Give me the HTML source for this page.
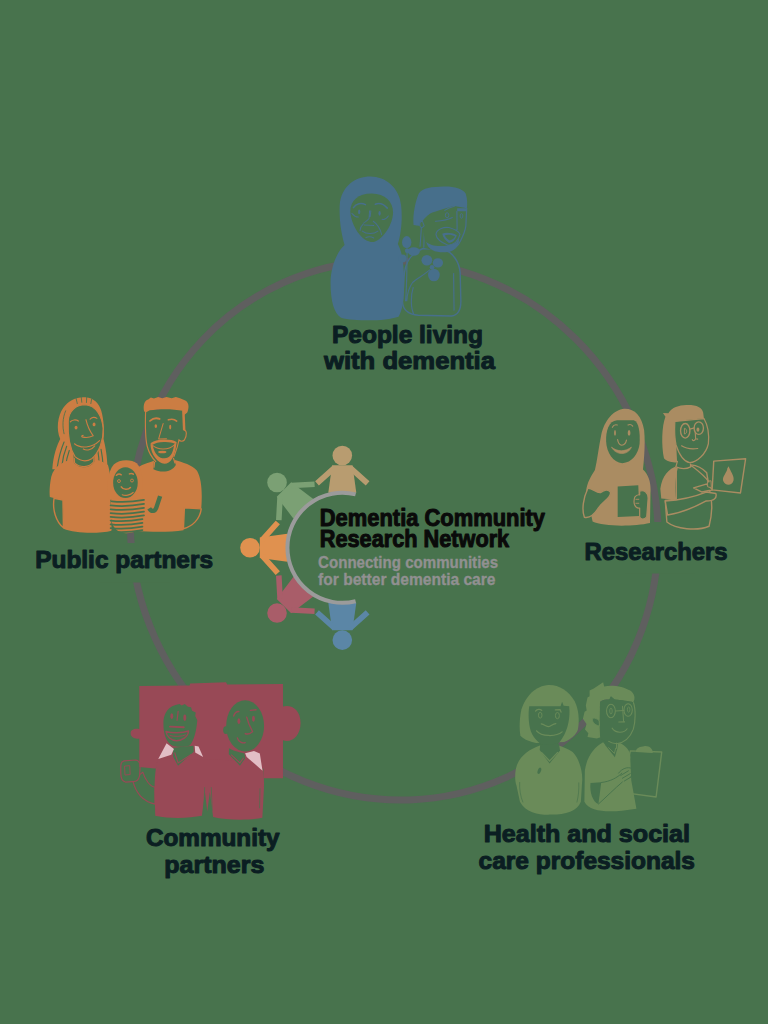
<!DOCTYPE html>
<html><head><meta charset="utf-8"><title>Dementia Community Research Network</title>
<style>
html,body{margin:0;padding:0;background:#48734D;}
body{width:768px;height:1024px;overflow:hidden;font-family:"Liberation Sans",sans-serif;}
svg{display:block}
text{font-family:"Liberation Sans",sans-serif;font-weight:bold}
</style></head><body>
<svg width="768" height="1024" viewBox="0 0 768 1024">
<rect width="768" height="1024" fill="#48734D"/>
<ellipse cx="394.27" cy="530.21" rx="262.4" ry="271.3" transform="rotate(-24.22 394.27 530.21)" fill="none" stroke="#5f5f5f" stroke-width="7"/>
<rect x="100" y="543" width="70" height="39.5" fill="#48734D"/><rect x="625" y="522" width="70" height="51.5" fill="#48734D"/>
<g transform="translate(320 170) scale(0.23438)">
<path d="M440,335 C400,350 366,385 360,440 L352,560 C352,600 380,616 420,620 L560,623 C590,620 601,600 601,560 L598,440 C595,390 565,352 528,338 Z" fill="#48734D" stroke="#476F8B" stroke-width="6"/><path d="M570,440 L572,600 M398,500 C385,540 388,590 400,615" fill="none" stroke="#476F8B" stroke-width="5"/><g transform="translate(341.4 42.67) scale(0.4445)"><path d="M200,440 L185,640 L440,700 L470,660 Z" fill="#48734D"/><path d="M205,460 L192,640 M235,470 L228,650" fill="none" stroke="#476F8B" stroke-width="11"/><path d="M210,400 L240,590 C300,690 440,700 520,660 C580,610 620,520 632,440 L640,270 L400,240 Z" fill="#48734D"/><path d="M640,268 L632,440 C624,500 600,545 580,585 C560,630 520,662 470,682" fill="none" stroke="#476F8B" stroke-width="12"/><path d="M130,432 C120,330 150,200 180,130 C220,72 300,65 420,62 C520,60 600,80 630,130 C647,180 647,230 642,272 L520,250 C440,270 340,300 290,322 C250,350 222,380 212,402 L192,442 Z" fill="#476F8B"/><path d="M215,395 C185,395 180,440 205,462 L232,440 Z" fill="#48734D" stroke="#476F8B" stroke-width="10"/><path d="M548,272 L642,270 L640,300 L548,300 Z" fill="#476F8B"/><path d="M430,292 C460,268 495,258 522,252 M340,396 C400,392 460,385 502,360 M546,300 L548,478 C520,492 480,478 452,462" fill="none" stroke="#476F8B" stroke-width="11" stroke-linecap="round"/><ellipse cx="452" cy="338" rx="17" ry="24" fill="none" stroke="#476F8B" stroke-width="9"/><ellipse cx="590" cy="345" rx="13" ry="22" fill="none" stroke="#476F8B" stroke-width="9"/><path d="M345,522 C350,470 420,450 470,456 C520,470 560,490 576,520 C562,580 520,622 462,626 C400,602 350,572 345,522 Z" fill="#48734D" stroke="#476F8B" stroke-width="11"/><path d="M405,515 C440,500 500,505 545,530 C530,580 500,600 470,605 C440,585 415,555 405,515 Z" fill="#476F8B"/><path d="M430,530 C460,520 500,525 528,540 C520,560 500,575 478,580 C455,570 440,552 430,530 Z" fill="#48734D"/><path d="M250,592 C300,640 420,652 540,602 L562,562 C578,602 542,682 462,692 C362,702 270,682 250,592 Z" fill="#476F8B"/></g><path d="M215,28 C150,28 90,70 84,150 C81,220 93,280 105,320 C70,350 45,420 45,480 C45,560 60,612 90,630 C150,646 280,646 335,626 C355,600 362,520 358,440 C355,380 346,340 332,316 C348,270 352,200 346,150 C338,75 280,28 215,28 Z" fill="#476F8B"/><g transform="translate(42.67 42.67) scale(0.4445)"><path d="M195,300 C195,200 270,130 400,130 C530,130 605,210 605,310 C605,420 520,560 420,596 C300,602 200,430 195,300 Z" fill="#48734D"/><path d="M225,265 C250,225 300,215 340,236 M435,232 C480,215 520,236 550,270" fill="none" stroke="#476F8B" stroke-width="15" stroke-linecap="round"/><path d="M210,320 C230,345 250,356 272,356 M500,376 C520,386 545,366 560,345 M380,295 L375,370 C360,390 340,400 325,412 M392,295 L386,350 M330,432 L420,436 M415,396 C450,420 480,460 495,522 M320,422 C300,440 290,460 288,486 M310,490 C350,522 420,522 460,490 M345,552 C370,540 400,545 420,556" fill="none" stroke="#476F8B" stroke-width="10" stroke-linecap="round"/><ellipse cx="280" cy="306" rx="11" ry="22" fill="#476F8B"/><ellipse cx="476" cy="320" rx="11" ry="22" fill="#476F8B"/></g><path d="M372,335 C370,400 372,480 365,560 M470,425 C440,450 410,465 395,480 C380,500 372,530 370,560" fill="none" stroke="#476F8B" stroke-width="5"/><ellipse cx="370" cy="308" rx="20" ry="26" fill="#476F8B"/><ellipse cx="400" cy="348" rx="26" ry="18" fill="#476F8B"/><ellipse cx="352" cy="378" rx="17" ry="17" fill="#476F8B"/><ellipse cx="372" cy="345" rx="10" ry="10" fill="#476F8B"/><ellipse cx="456" cy="385" rx="23" ry="22" fill="#476F8B"/><ellipse cx="503" cy="396" rx="22" ry="20" fill="#476F8B"/><ellipse cx="486" cy="448" rx="25" ry="27" fill="#476F8B"/><ellipse cx="478" cy="415" rx="10" ry="10" fill="#476F8B"/>
</g>
<g transform="translate(40 390) scale(0.23438)">
<path d="M495,298 C470,310 440,316 418,330 L405,600 C480,607 560,606 612,598 L616,503 L688,507 C693,440 690,380 670,345 C650,320 610,310 572,298 C555,330 512,330 495,298 Z" fill="#CB7D43"/><path d="M616,503 L612,592 C650,582 682,552 688,507 Z" fill="#48734D" stroke="#CB7D43" stroke-width="6" stroke-linejoin="round"/><g transform="translate(384 0) scale(0.4445)"><path d="M232,640 L225,760 C300,800 400,790 440,720 L418,640 Z" fill="#48734D"/><path d="M236,690 L230,745 M416,650 L432,705" fill="none" stroke="#CB7D43" stroke-width="11"/><path d="M150,190 C145,350 150,480 165,540 C180,600 220,660 250,692 C300,712 380,705 420,642 C440,600 455,560 470,490 L520,380 L512,190 Z" fill="#48734D"/><path d="M150,195 C145,350 150,480 165,540 C180,600 220,660 250,690" fill="none" stroke="#CB7D43" stroke-width="11"/><path d="M512,195 L520,385" fill="none" stroke="#CB7D43" stroke-width="24"/><path d="M515,385 C548,380 548,440 522,480 C506,496 482,492 470,480 C455,560 435,600 420,642" fill="none" stroke="#CB7D43" stroke-width="11"/><path d="M135,205 C125,150 135,100 175,90 L200,72 L230,82 L270,68 L310,80 L350,66 L400,78 L440,66 L480,80 L520,95 C565,110 572,160 550,215 L520,240 L505,200 C420,180 280,180 190,195 L150,215 Z" fill="#CB7D43"/><path d="M192,296 C220,272 260,268 284,278" fill="none" stroke="#CB7D43" stroke-width="18" stroke-linecap="round"/><path d="M368,286 C400,276 430,282 448,298" fill="none" stroke="#CB7D43" stroke-width="16" stroke-linecap="round"/><ellipse cx="248" cy="346" rx="12" ry="18" fill="#CB7D43"/><ellipse cx="386" cy="356" rx="10" ry="22" fill="#CB7D43"/><path d="M318,322 L275,470 L350,468" fill="none" stroke="#CB7D43" stroke-width="10" stroke-linecap="round" stroke-linejoin="round"/><path d="M210,516 C260,480 390,478 436,506" fill="none" stroke="#CB7D43" stroke-width="24" stroke-linecap="round"/><path d="M216,532 C270,578 370,578 426,526" fill="none" stroke="#CB7D43" stroke-width="10" stroke-linecap="round"/><ellipse cx="310" cy="596" rx="40" ry="12" fill="#CB7D43"/><path d="M196,520 C200,620 270,705 330,708 C390,702 430,650 446,510 L424,520 C412,620 380,652 330,656 C280,656 235,620 218,530 Z" fill="#CB7D43"/></g><g transform="translate(42.67 0) scale(0.4445)"><path d="M22,760 C32,620 68,530 98,470 C58,380 72,250 128,170 C178,100 260,62 340,70 C422,76 472,130 492,200 C517,290 524,400 514,470 C532,540 550,640 552,760 Z" fill="#CB7D43"/><path d="M70,740 C85,640 110,560 135,500 M112,740 C120,660 140,590 160,540 M150,740 C155,680 170,620 185,580 M470,730 C472,680 468,630 460,590 M510,740 C508,680 500,620 490,570" fill="none" stroke="#48734D" stroke-width="11" stroke-linecap="round"/><path d="M250,80 L262,130 M300,70 L305,118 M352,72 L350,120 M400,85 L392,130 M150,200 C120,270 118,350 135,420" fill="none" stroke="#48734D" stroke-width="8" stroke-linecap="round"/></g><path d="M150,293 C110,300 60,320 48,370 C40,410 40,440 42,456 L96,470 C101,520 101,560 100,592 C150,612 250,614 306,600 L300,470 C305,420 300,350 290,320 C270,305 245,298 230,293 C215,322 170,322 150,293 Z" fill="#CB7D43"/><path d="M60,462 C52,510 68,562 100,588 L98,470 Z" fill="#48734D" stroke="#CB7D43" stroke-width="6" stroke-linejoin="round"/><g transform="translate(42.67 0) scale(0.4445)"><path d="M225,620 L230,700 C290,760 380,750 425,690 L428,620 Z" fill="#48734D"/><path d="M232,650 L236,700 C290,752 375,745 420,690 L422,640" fill="none" stroke="#CB7D43" stroke-width="11"/><path d="M175,300 C180,200 250,142 340,142 C440,150 500,250 510,370 C515,480 470,600 400,660 C350,692 290,682 240,640 C190,560 170,420 175,300 Z" fill="#48734D" stroke="#CB7D43" stroke-width="11"/><path d="M195,306 C210,286 250,280 272,298 M385,280 C400,260 430,256 450,272 M345,285 C360,350 385,400 415,440 C380,456 340,458 316,452 C300,448 300,438 318,436 M235,516 C290,562 400,562 476,486 M320,566 C350,586 400,576 430,536" fill="none" stroke="#CB7D43" stroke-width="11" stroke-linecap="round" stroke-linejoin="round"/><ellipse cx="250" cy="360" rx="14" ry="18" fill="#CB7D43"/><ellipse cx="423" cy="330" rx="14" ry="18" fill="#CB7D43"/></g><g transform="translate(234.7 277.4) scale(0.4445)"><path d="M128,430 C110,300 120,160 180,90 C230,40 350,35 400,80 C450,130 470,250 452,430 Z" fill="#CB7D43"/><path d="M160,420 C140,470 140,560 160,640 C180,720 240,750 300,750 C380,750 440,720 452,640 C470,540 500,470 440,420 Z" fill="#CB7D43"/><path d="M160,444 C250,454 370,448 470,430 M150,484 C240,494 370,488 470,470 M150,521 C240,531 370,525 470,507 M150,558 C240,568 370,562 470,544 M150,594 C240,604 370,598 470,580 M150,630 C240,640 355,634 455,616 M150,666 C240,676 355,670 455,652 M150,702 C240,712 355,706 455,688 M160,734 C250,744 355,738 455,720 " fill="none" stroke="#48734D" stroke-width="17" stroke-linecap="round"/><path d="M520,512 C540,545 575,548 590,500 L625,395" fill="none" stroke="#48734D" stroke-width="42" stroke-linecap="butt" stroke-linejoin="round"/><ellipse cx="292" cy="265" rx="118" ry="148" fill="#48734D"/><path d="M205,195 C220,182 240,182 252,190 M330,182 C345,174 358,176 368,184" fill="none" stroke="#CB7D43" stroke-width="14" stroke-linecap="round"/><circle cx="230" cy="250" r="14" fill="none" stroke="#CB7D43" stroke-width="9"/><circle cx="355" cy="245" r="14" fill="none" stroke="#CB7D43" stroke-width="9"/><path d="M252,306 C270,336 320,336 340,312" fill="none" stroke="#CB7D43" stroke-width="15" stroke-linecap="round"/><path d="M262,382 C290,396 340,386 366,360" fill="none" stroke="#CB7D43" stroke-width="12" stroke-linecap="round"/></g>
</g>
<g transform="translate(575 395) scale(0.23438)">
<path d="M432,305 L432,445 L385,450 L392,542 C430,572 520,582 572,560 C582,520 586,470 580,440 L562,332 C542,310 522,300 495,298 Z" fill="#48734D" stroke="#AA8C62" stroke-width="6" stroke-linejoin="round"/><path d="M436,303 C400,314 372,345 364,400 L368,442 L432,447 C425,400 428,350 440,306 Z" fill="#AA8C62"/><path d="M385,452 L395,512 C450,503 520,474 560,452 C592,452 607,440 601,420 L560,414 C520,430 450,448 385,452 Z" fill="#48734D" stroke="#AA8C62" stroke-width="6" stroke-linejoin="round"/><path d="M506,396 L560,380 L588,404 L542,414 Z" fill="#48734D" stroke="#AA8C62" stroke-width="6" stroke-linejoin="round"/><path d="M592,282 L728,272 L706,418 L585,405 Z" fill="#48734D" stroke="#AA8C62" stroke-width="6" stroke-linejoin="round"/><path d="M656,304 C660,322 682,345 676,366 C670,388 640,388 632,366 C627,346 650,330 650,312 Z" fill="#AA8C62"/><path d="M565,368 L580,366 L582,395 L566,392 Z" fill="#48734D" stroke="#AA8C62" stroke-width="4"/><g transform="translate(341.4 21.3) scale(0.4445)"><path d="M215,560 L196,645 C250,668 300,668 345,645 L340,590 Z" fill="#48734D"/><path d="M216,585 L200,642 C250,664 300,664 342,642 L340,610 M345,628 C400,670 470,720 520,790" fill="none" stroke="#AA8C62" stroke-width="12"/><path d="M190,205 C185,300 190,380 202,432 C230,520 280,590 332,602 C400,600 490,520 512,420 C520,340 505,240 470,178 Z" fill="#48734D" stroke="#AA8C62" stroke-width="12"/><path d="M76,126 L128,128 C160,70 230,50 300,48 C400,45 450,70 462,120 L470,180 C400,178 280,190 190,212 C185,300 190,380 204,440 L212,598 C170,605 110,590 86,560 C60,430 65,250 100,160 Z" fill="#AA8C62"/><ellipse cx="290" cy="296" rx="45" ry="70" fill="none" stroke="#AA8C62" stroke-width="13"/><ellipse cx="420" cy="270" rx="45" ry="60" fill="none" stroke="#AA8C62" stroke-width="13"/><path d="M282,272 C310,275 312,325 282,326 Z" fill="none" stroke="#AA8C62" stroke-width="9"/><ellipse cx="412" cy="285" rx="14" ry="20" fill="#AA8C62"/><path d="M335,280 L378,268 M386,312 L390,372 C380,396 360,392 358,380 M390,372 L410,376 M255,440 C300,470 360,472 410,466" fill="none" stroke="#AA8C62" stroke-width="11" stroke-linecap="round"/></g><path d="M211,59 C165,62 125,110 112,170 C100,230 95,280 85,320 C70,345 50,375 48,410 L75,540 C120,562 250,562 320,546 L322,420 C325,380 318,345 290,318 C296,260 300,200 295,150 C285,90 255,58 211,59 Z" fill="#AA8C62"/><g transform="translate(64 21.3) scale(0.4445)"><path d="M155,400 C150,300 180,200 260,195 L420,195 C470,210 482,320 476,420 C465,520 400,602 310,606 C220,600 160,500 155,400 Z" fill="#48734D"/><path d="M215,262 C225,240 245,235 262,240 M365,240 C380,232 400,238 410,250 M265,380 C270,410 290,432 305,434 C325,432 345,410 350,385 M228,622 L330,632" fill="none" stroke="#AA8C62" stroke-width="11" stroke-linecap="round"/><ellipse cx="240" cy="316" rx="9" ry="28" fill="#AA8C62"/><ellipse cx="375" cy="316" rx="13" ry="28" fill="#AA8C62"/><path d="M206,452 C260,498 340,498 398,452 C365,535 250,535 206,452 Z" fill="#AA8C62" stroke="#AA8C62" stroke-width="6" stroke-linejoin="round"/></g><path d="M55,398 C35,440 28,490 40,522 C60,527 82,510 100,482 C120,452 152,442 152,416 C142,400 125,405 110,416 C95,422 70,394 55,398 Z" fill="#48734D" stroke="#AA8C62" stroke-width="6" stroke-linejoin="round"/><path d="M182,390 L270,385 L275,516 L182,521 Z" fill="#48734D"/><path d="M276,410 C296,404 312,416 312,440 L306,520 C296,532 280,532 276,520 L276,482 C255,486 247,460 255,436 C262,426 270,425 276,426 Z" fill="#48734D" stroke="#AA8C62" stroke-width="5" stroke-linejoin="round"/><path d="M258,445 L274,445 M258,462 L274,462" stroke="#AA8C62" stroke-width="4" fill="none"/>
</g>
<g transform="translate(110 670) scale(0.23438)">
<path d="M96,468 C108,520 132,560 192,572 L192,500 C172,498 150,470 140,436 Z" fill="#48734D" stroke="#984956" stroke-width="5" stroke-linejoin="round"/><path d="M60,388 L110,384 C124,386 130,400 128,420 L126,452 C122,470 110,478 95,476 L66,478 C52,474 46,460 46,440 L46,410 C46,398 52,390 60,388 Z" fill="#48734D" stroke="#984956" stroke-width="5"/><path d="M62,410 L84,408 L86,446 L64,448 Z" fill="none" stroke="#984956" stroke-width="4"/><path d="M125,68 L340,66 L342,58 L495,52 L500,62 L738,60 L738,156 C775,146 813,170 813,226 C813,282 775,312 738,300 L738,462 L655,462 L655,420 L190,420 L125,414 L125,292 C105,296 88,286 88,270 C88,254 105,248 125,252 Z" fill="#984956"/><path d="M205,378 C192,420 190,470 190,520 L193,622 C260,636 340,632 392,622 L405,520 L415,604 L426,520 L440,627 C500,642 600,642 650,630 L656,520 C659,470 656,420 645,388 Z" fill="#984956"/><path d="M404,500 L400,600 M432,500 L436,600 M640,505 L638,590" fill="none" stroke="#48734D" stroke-width="3"/><g transform="translate(128 85.3) scale(0.4445)"><path d="M225,330 C220,230 270,150 380,135 L400,150 L430,135 L460,160 L490,165 L500,200 L535,215 L530,250 L550,290 C540,400 520,480 480,530 C430,552 330,552 290,520 C240,480 225,400 225,330 Z" fill="#48734D"/><path d="M318,555 L512,535 L516,592 L365,728 L318,640 Z" fill="#48734D"/><path d="M332,600 L366,700 L492,618" fill="none" stroke="#984956" stroke-width="11"/><path d="M255,510 L326,566 L300,622 L175,662 Z" fill="#E2BEC5"/><path d="M525,535 L562,542 L606,642 L530,600 Z" fill="#E2BEC5"/><ellipse cx="305" cy="252" rx="14" ry="28" fill="#984956"/><ellipse cx="430" cy="266" rx="14" ry="30" fill="#984956"/><path d="M366,206 L356,290" fill="none" stroke="#984956" stroke-width="12" stroke-linecap="round"/><path d="M288,352 L420,358" fill="none" stroke="#984956" stroke-width="18" stroke-linecap="round"/><path d="M250,398 C300,414 400,418 466,394 C462,452 400,488 350,488 C300,482 255,450 250,398 Z" fill="#48734D" stroke="#984956" stroke-width="14" stroke-linejoin="round"/><path d="M285,436 C330,450 400,448 440,430" fill="none" stroke="#984956" stroke-width="9"/></g><g transform="translate(405.4 85.3) scale(0.4445)"><ellipse cx="385" cy="345" rx="182" ry="246" fill="#48734D"/><ellipse cx="200" cy="385" rx="26" ry="38" fill="#48734D"/><path d="M230,560 C280,590 340,600 378,608 L386,656 L335,726 L228,616 Z" fill="#48734D"/><path d="M250,620 L335,700 L370,650" fill="none" stroke="#984956" stroke-width="10"/><path d="M385,606 L470,586 L526,610 L552,775 L400,642 Z" fill="#E2BEC5"/><path d="M275,250 C285,216 305,206 325,206 M436,196 L490,190 M400,260 C415,320 440,370 456,400 C430,420 400,426 386,418 M310,460 C320,500 360,512 386,506" fill="none" stroke="#984956" stroke-width="13" stroke-linecap="round"/><ellipse cx="325" cy="300" rx="14" ry="28" fill="#984956"/><ellipse cx="465" cy="276" rx="14" ry="28" fill="#984956"/></g>
</g>
<g transform="translate(500 670) scale(0.23438)">
<path d="M556,345 L690,350 L666,542 L520,522 Z" fill="#48734D" stroke="#6A8B59" stroke-width="6" stroke-linejoin="round"/><path d="M580,350 C578,332 600,326 615,325 C636,322 652,335 652,354 Z" fill="#6A8B59"/><path d="M440,308 C400,330 370,370 362,430 L360,562 C380,602 450,607 520,600 L582,592 L560,470 L556,380 C560,350 540,322 505,308 C490,336 460,336 440,308 Z" fill="#6A8B59"/><path d="M448,300 L450,322 L490,372 L502,330 L505,296 Z" fill="#48734D"/><path d="M462,330 L488,356 L494,332 M497,300 L497,335" fill="none" stroke="#6A8B59" stroke-width="4"/><path d="M386,482 L432,479 L420,572 C395,562 382,522 386,482 Z" fill="#48734D"/><path d="M432,480 C470,476 500,460 520,440 M420,572 C450,545 490,505 522,478 M506,440 C520,420 545,412 562,420 C570,432 566,448 556,458 M515,450 L548,430 M522,462 L556,442 M530,474 L560,456" fill="none" stroke="#48734D" stroke-width="4" stroke-linecap="round"/><g transform="translate(320 21.3) scale(0.4445)"><path d="M180,130 L270,70 L280,110 C350,90 470,110 530,150 C575,180 580,230 560,262 C520,250 440,240 380,235 L345,205 L330,235 C290,235 250,240 240,262 L236,600 L210,610 L120,596 L128,560 L96,522 L110,470 L76,420 L92,352 L112,340 L104,290 L120,215 L140,205 L140,150 Z" fill="#6A8B59"/><path d="M240,262 C250,240 290,235 330,235 L345,206 L380,235 C440,240 520,250 560,262 C585,330 580,450 560,520 C530,600 470,650 400,660 C340,650 270,640 236,600 Z" fill="#48734D"/><path d="M560,262 C585,330 580,450 560,520 C530,600 470,650 400,660 C370,658 340,650 320,635 M228,320 C222,420 226,520 236,600" fill="none" stroke="#6A8B59" stroke-width="11"/><path d="M170,415 C160,440 180,480 235,490 L232,440 C215,420 190,410 170,415 Z" fill="#48734D" stroke="#6A8B59" stroke-width="8"/><ellipse cx="345" cy="346" rx="42" ry="65" fill="none" stroke="#6A8B59" stroke-width="10"/><ellipse cx="510" cy="336" rx="40" ry="60" fill="none" stroke="#6A8B59" stroke-width="10"/><ellipse cx="345" cy="346" rx="12" ry="28" fill="none" stroke="#6A8B59" stroke-width="8"/><ellipse cx="515" cy="332" rx="12" ry="25" fill="none" stroke="#6A8B59" stroke-width="8"/><path d="M390,346 L470,340 M456,300 L466,440 M420,452 L476,450 M356,510 C390,562 470,562 500,516 M400,652 L400,700" fill="none" stroke="#6A8B59" stroke-width="10" stroke-linecap="round"/></g><path d="M170,322 C120,340 80,370 68,420 C62,450 65,480 70,492 L85,562 C110,612 180,620 220,617 C280,617 330,602 345,562 L350,482 C355,440 340,380 310,350 C290,335 265,328 250,322 Z" fill="#6A8B59"/><g transform="translate(42.67 21.3) scale(0.4445)"><path d="M370,95 C250,100 150,200 110,330 C90,420 88,520 100,582 C140,625 200,640 250,652 L520,642 C580,620 640,570 652,520 C668,440 660,330 620,250 C560,150 470,92 370,95 Z" fill="#6A8B59"/><path d="M185,300 L485,300 L500,258 L515,296 L568,300 C580,400 560,520 500,610 C460,680 400,695 370,692 C300,680 230,620 200,540 C175,460 175,360 185,300 Z" fill="#48734D"/><path d="M290,670 L285,720 L380,850 L480,725 L470,660 Z" fill="#48734D"/><path d="M300,740 L380,826 L460,740" fill="none" stroke="#6A8B59" stroke-width="12"/><path d="M245,346 C260,326 290,326 305,340 M435,336 L480,332 L490,356 M300,470 C330,476 350,496 370,496 C395,490 410,470 440,466 M255,536 C300,592 440,596 500,546" fill="none" stroke="#6A8B59" stroke-width="12" stroke-linecap="round" stroke-linejoin="round"/><ellipse cx="290" cy="386" rx="17" ry="28" fill="none" stroke="#6A8B59" stroke-width="9"/><ellipse cx="455" cy="390" rx="19" ry="30" fill="none" stroke="#6A8B59" stroke-width="9"/></g><ellipse cx="168" cy="430" rx="7" ry="14" fill="#48734D" transform="rotate(20 168 430)"/><path d="M84,478 C82,510 88,540 98,565 M336,480 C338,510 334,540 328,565" fill="none" stroke="#48734D" stroke-width="3"/>
</g>
<g transform="translate(342.3 547.8) rotate(0)" fill="#B89C70" stroke="#B89C70" stroke-width="0"><circle cx="0" cy="-92.3" r="9.8"/><path d="M-10.2,-82.5 L10.2,-82.5 L14,-55 L-14,-55 Z"/><path d="M-8,-80 L-25.3,-64.5 M8,-80 L25.3,-64.5" stroke-width="5.6" stroke="#B89C70" stroke-linecap="butt" fill="none"/></g>
<g transform="translate(342.3 547.8) rotate(-45)" fill="#7BA074" stroke="#7BA074" stroke-width="0"><circle cx="0" cy="-92.3" r="9.8"/><path d="M-10.2,-82.5 L10.2,-82.5 L14,-55 L-14,-55 Z"/><path d="M-8,-80 L-25.3,-64.5 M8,-80 L25.3,-64.5" stroke-width="5.6" stroke="#7BA074" stroke-linecap="butt" fill="none"/></g>
<g transform="translate(342.3 547.8) rotate(-90)" fill="#E0914F" stroke="#E0914F" stroke-width="0"><circle cx="0" cy="-92.3" r="9.8"/><path d="M-10.2,-82.5 L10.2,-82.5 L14,-55 L-14,-55 Z"/><path d="M-8,-80 L-25.3,-64.5 M8,-80 L25.3,-64.5" stroke-width="5.6" stroke="#E0914F" stroke-linecap="butt" fill="none"/></g>
<g transform="translate(342.3 547.8) rotate(-135)" fill="#A95D69" stroke="#A95D69" stroke-width="0"><circle cx="0" cy="-92.3" r="9.8"/><path d="M-10.2,-82.5 L10.2,-82.5 L14,-55 L-14,-55 Z"/><path d="M-8,-80 L-25.3,-64.5 M8,-80 L25.3,-64.5" stroke-width="5.6" stroke="#A95D69" stroke-linecap="butt" fill="none"/></g>
<g transform="translate(342.3 547.8) rotate(-180)" fill="#5B86A6" stroke="#5B86A6" stroke-width="0"><circle cx="0" cy="-92.3" r="9.8"/><path d="M-10.2,-82.5 L10.2,-82.5 L14,-55 L-14,-55 Z"/><path d="M-8,-80 L-25.3,-64.5 M8,-80 L25.3,-64.5" stroke-width="5.6" stroke="#5B86A6" stroke-linecap="butt" fill="none"/></g>
<path d="M355.6,494.4 A55,55 0 1 0 355.6,601.2" fill="none" stroke="#9b9b9b" stroke-width="4"/>
<text x="319.8" y="525.5" font-size="23" textLength="225.2" lengthAdjust="spacingAndGlyphs" fill="#0a0a0a" stroke="#0a0a0a" stroke-width="1.0" stroke-linejoin="round">Dementia Community</text>
<text x="319.8" y="546.6" font-size="23" textLength="189.4" lengthAdjust="spacingAndGlyphs" fill="#0a0a0a" stroke="#0a0a0a" stroke-width="1.0" stroke-linejoin="round">Research Network</text>
<text x="318.1" y="567.8" font-size="17" textLength="180" lengthAdjust="spacingAndGlyphs" fill="#919091" stroke="#919091" stroke-width="0.35" style="font-weight:bold">Connecting communities</text>
<text x="318.1" y="585.4" font-size="17" textLength="177.4" lengthAdjust="spacingAndGlyphs" fill="#919091" stroke="#919091" stroke-width="0.35" style="font-weight:bold">for better dementia care</text>
<text x="332" y="342.9" font-size="23" textLength="151" lengthAdjust="spacingAndGlyphs" fill="#0b1e22" stroke="#0b1e22" stroke-width="1.0" stroke-linejoin="round">People living</text>
<text x="324" y="369" font-size="23" textLength="171" lengthAdjust="spacingAndGlyphs" fill="#0b1e22" stroke="#0b1e22" stroke-width="1.0" stroke-linejoin="round">with dementia</text>
<text x="35.2" y="567.8" font-size="23" textLength="177.8" lengthAdjust="spacingAndGlyphs" fill="#0b1e22" stroke="#0b1e22" stroke-width="1.0" stroke-linejoin="round">Public partners</text>
<text x="584.5" y="560.1" font-size="23" textLength="143.10000000000002" lengthAdjust="spacingAndGlyphs" fill="#0b1e22" stroke="#0b1e22" stroke-width="1.0" stroke-linejoin="round">Researchers</text>
<text x="145.9" y="846" font-size="23" textLength="133.70000000000002" lengthAdjust="spacingAndGlyphs" fill="#0b1e22" stroke="#0b1e22" stroke-width="1.0" stroke-linejoin="round">Community</text>
<text x="164.3" y="873.4" font-size="23" textLength="100.0" lengthAdjust="spacingAndGlyphs" fill="#0b1e22" stroke="#0b1e22" stroke-width="1.0" stroke-linejoin="round">partners</text>
<text x="483.7" y="841.8" font-size="23" textLength="206.3" lengthAdjust="spacingAndGlyphs" fill="#0b1e22" stroke="#0b1e22" stroke-width="1.0" stroke-linejoin="round">Health and social</text>
<text x="478.6" y="869.4" font-size="23" textLength="216.39999999999998" lengthAdjust="spacingAndGlyphs" fill="#0b1e22" stroke="#0b1e22" stroke-width="1.0" stroke-linejoin="round">care professionals</text>

</svg>
</body></html>
